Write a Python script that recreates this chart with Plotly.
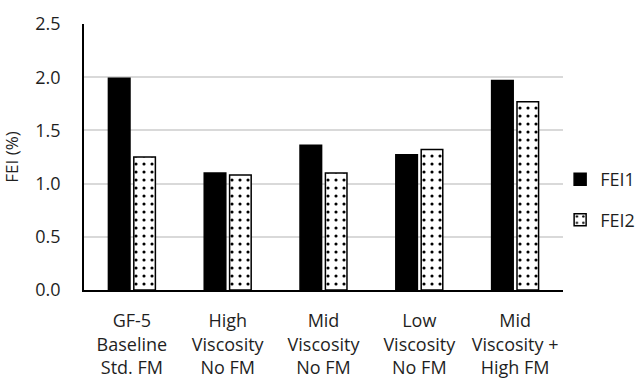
import plotly.graph_objects as go

categories = [
    "GF-5<br>Baseline<br>Std. FM",
    "High<br>Viscosity<br>No FM",
    "Mid<br>Viscosity<br>No FM",
    "Low<br>Viscosity<br>No FM",
    "Mid<br>Viscosity +<br>High FM",
]
fei1 = [1.99, 1.10, 1.36, 1.27, 1.97]
fei2 = [1.25, 1.08, 1.10, 1.32, 1.77]
y_ticks = [0.0, 0.5, 1.0, 1.5, 2.0, 2.5]

font_family = "Open Sans, Lato, sans-serif"
text_color = "#1f1f1f"

fig = go.Figure()
fig.add_trace(go.Bar(
    name="FEI1", x=categories, y=fei1,
    marker=dict(color="black", line=dict(color="black", width=1.5)),
    legendgroup="a",
))
fig.add_trace(go.Bar(
    name="FEI2", x=categories, y=fei2,
    marker=dict(
        color="white",
        line=dict(color="black", width=1.5),
        pattern=dict(shape=".", fgcolor="black", bgcolor="white",
                     size=8, solidity=0.12, fillmode="replace"),
    ),
    legendgroup="b",
))

fig.update_layout(
    width=636, height=379,
    margin=dict(l=84, r=73, t=24, b=89, autoexpand=False),
    paper_bgcolor="white", plot_bgcolor="white",
    barmode="group", bargap=0.47, bargroupgap=0.15,
    font=dict(family=font_family, size=18, color=text_color),
    showlegend=True,
    legend=dict(
        x=0.994, xanchor="left", y=0.34, yanchor="middle",
        bgcolor="rgba(0,0,0,0)",
        font=dict(size=18, color=text_color),
        tracegroupgap=14, itemwidth=30,
    ),
    yaxis=dict(
        range=[0, 2.5], tickvals=y_ticks, tickformat=".1f",
        showgrid=True, gridcolor="#d9d9d9", gridwidth=1.5,
        showline=True, linecolor="black", linewidth=1.5,
        zeroline=False, ticks="", ticklabelstandoff=18,
        title=dict(text="FEI (%)", font=dict(size=17), standoff=14),
    ),
    xaxis=dict(
        showline=True, linecolor="black", linewidth=1.5,
        ticks="", tickangle=0, ticklabelstandoff=14,
    ),
)

fig.write_html("out.html")
